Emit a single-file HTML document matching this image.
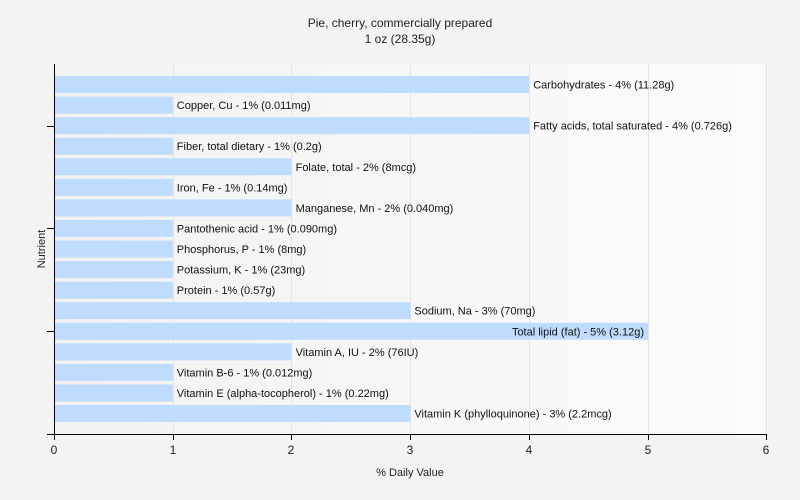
<!DOCTYPE html>
<html><head><meta charset="utf-8"><style>
body{margin:0;background:#f3f3f2;}
svg{display:block;font-family:"Liberation Sans",sans-serif;}
</style></head><body>
<svg width="800" height="500" xmlns="http://www.w3.org/2000/svg">
<defs><linearGradient id="g" x1="0" x2="1"><stop offset="0" stop-color="#f2f2f2"/><stop offset="1" stop-color="#fbfbfb"/></linearGradient></defs>
<rect width="800" height="500" fill="#f3f3f2"/>
<rect x="54" y="64" width="713" height="370" fill="url(#g)"/>
<g stroke="#e4e4e4" stroke-width="1">
<line x1="173.5" y1="64" x2="173.5" y2="434"/><line x1="291.5" y1="64" x2="291.5" y2="434"/><line x1="410.5" y1="64" x2="410.5" y2="434"/><line x1="529.5" y1="64" x2="529.5" y2="434"/><line x1="648.5" y1="64" x2="648.5" y2="434"/><line x1="766.5" y1="64" x2="766.5" y2="434"/>
</g>
<text x="400" y="27" font-size="12" text-anchor="middle" fill="#222">Pie, cherry, commercially prepared</text>
<text x="400" y="43" font-size="12" text-anchor="middle" fill="#222">1 oz (28.35g)</text>
<g fill="#bfdbfd" id="bars"></g>
<g font-size="11" fill="#111" id="labs"></g>
<g stroke="#000" stroke-width="1">
<line x1="54.5" y1="64" x2="54.5" y2="435"/><line x1="47" y1="434.5" x2="767" y2="434.5"/>
<line x1="47" y1="126.5" x2="54" y2="126.5"/><line x1="47" y1="228.5" x2="54" y2="228.5"/><line x1="47" y1="331.5" x2="54" y2="331.5"/>
<line x1="54.5" y1="434" x2="54.5" y2="440"/><line x1="173.5" y1="434" x2="173.5" y2="440"/><line x1="291.5" y1="434" x2="291.5" y2="440"/><line x1="410.5" y1="434" x2="410.5" y2="440"/><line x1="529.5" y1="434" x2="529.5" y2="440"/><line x1="648.5" y1="434" x2="648.5" y2="440"/><line x1="766.5" y1="434" x2="766.5" y2="440"/>
</g>
<g font-size="12" fill="#222" text-anchor="middle">
<text x="54" y="454">0</text><text x="173" y="454">1</text><text x="291" y="454">2</text><text x="410" y="454">3</text><text x="529" y="454">4</text><text x="648" y="454">5</text><text x="766" y="454">6</text>
</g>
<text x="410" y="476" font-size="11" text-anchor="middle" fill="#222">% Daily Value</text>
<text transform="translate(45,249) rotate(-90)" font-size="11" text-anchor="middle" fill="#222">Nutrient</text>
<script>
var d=[["Carbohydrates - 4% (11.28g)",4],["Copper, Cu - 1% (0.011mg)",1],["Fatty acids, total saturated - 4% (0.726g)",4],["Fiber, total dietary - 1% (0.2g)",1],["Folate, total - 2% (8mcg)",2],["Iron, Fe - 1% (0.14mg)",1],["Manganese, Mn - 2% (0.040mg)",2],["Pantothenic acid - 1% (0.090mg)",1],["Phosphorus, P - 1% (8mg)",1],["Potassium, K - 1% (23mg)",1],["Protein - 1% (0.57g)",1],["Sodium, Na - 3% (70mg)",3],["Total lipid (fat) - 5% (3.12g)",5],["Vitamin A, IU - 2% (76IU)",2],["Vitamin B-6 - 1% (0.012mg)",1],["Vitamin E (alpha-tocopherol) - 1% (0.22mg)",1],["Vitamin K (phylloquinone) - 3% (2.2mcg)",3]];
var ns="http://www.w3.org/2000/svg",b=document.getElementById("bars"),l=document.getElementById("labs");
d.forEach(function(r,i){var c=64+20.56*(i+1);var w=r[1]*118.8;
var e=document.createElementNS(ns,"rect");e.setAttribute("x",55);e.setAttribute("y",c-8.5);e.setAttribute("width",w-1);e.setAttribute("height",17);b.appendChild(e);
var t=document.createElementNS(ns,"text");t.setAttribute("y",c+4);
if(r[1]==5){t.setAttribute("x",54+w-4);t.setAttribute("text-anchor","end");}else{t.setAttribute("x",54+w+4);}
t.textContent=r[0];l.appendChild(t);});
</script>
</svg>
</body></html>
